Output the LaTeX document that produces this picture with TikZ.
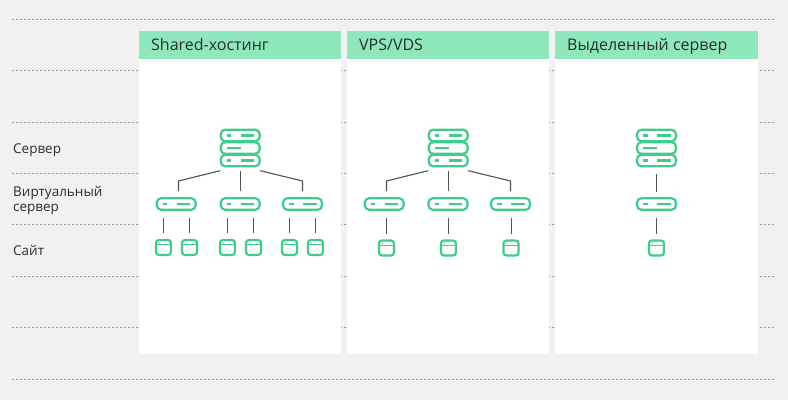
\documentclass[tikz,border=0pt]{standalone}
\usepackage{fontspec}
\setmainfont{Open Sans}
\definecolor{bgc}{HTML}{F1F1F1}
\definecolor{hdr}{HTML}{8FE8BC}
\definecolor{grn}{HTML}{3FCB8B}
\definecolor{txt}{HTML}{26302B}
\definecolor{lnk}{HTML}{505552}
\definecolor{dots}{HTML}{9A9A9A}
\tikzset{
  panel/.style={fill=white,draw=none,anchor=north west,minimum height=323pt,inner sep=0pt,outer sep=0pt},
  head/.style={fill=hdr,draw=none,anchor=north west,minimum height=28pt,inner sep=0pt,outer sep=0pt},
  headtxt/.style={anchor=base west,inner sep=0pt,text=txt,font=\fontsize{16}{18}\selectfont},
  sidetxt/.style={anchor=base west,inner sep=0pt,text=txt,font=\fontsize{13.5}{15}\selectfont,align=left},
  rowbox/.style={draw=grn,line width=2.2pt,rounded corners=4.5pt,fill=white,minimum width=39pt,minimum height=11.6pt,inner sep=0pt,outer sep=1pt},
  sitebox/.style={draw=grn,line width=2.2pt,rounded corners=3pt,fill=white,minimum width=15pt,minimum height=15pt,inner sep=0pt,outer sep=1pt},
  bar/.style={draw=grn,line width=2.2pt},
  sep/.style={draw=dots,line width=1pt,dash pattern=on 2pt off 2pt},
  link/.style={draw=lnk,line width=1.1pt},
}
\newcommand{\duo}[3]{%
  \node[rowbox] (#1) at (#2,#3) {};
  \draw[bar] (#1.west) ++(7,0) -- ++(4.5,0);
  \draw[bar] (#1.west) ++(21,0) -- ++(13.5,0);}
\newcommand{\mono}[3]{%
  \node[rowbox] (#1) at (#2,#3) {};
  \draw[bar] (#1.west) ++(7,0) -- ++(14,0);}
\newcommand{\stack}[3]{%
  \duo{#1a}{#2}{#3-12.5}\duo{#1c}{#2}{#3+12.5}\mono{#1b}{#2}{#3}}
\newcommand{\site}[3]{%
  \node[sitebox] (#1) at (#2,#3) {};
  \draw[grn,line width=1pt] (#1.north west) ++(1.5,5.7) -- ++(14,0);
  \fill[grn] (#1.north west) ++(4.5,3.8) circle (0.8);}
\begin{document}
\begin{tikzpicture}[x=1pt,y=-1pt]
\useasboundingbox (0,0) rectangle (788,400);
\fill[bgc] (0,0) rectangle (788,400);
\foreach \yy in {19.5,70.5,122,173,224.5,276,327.5,379}
  \draw[sep] (12,\yy) -- (775,\yy);
\node[panel,minimum width=202pt] (p1) at (139,31) {};
\node[panel,minimum width=202.5pt] (p2) at (346.5,31) {};
\node[panel,minimum width=203.5pt] (p3) at (554.5,31) {};
\node[head,minimum width=202pt] (h1) at (139,31) {};
\node[head,minimum width=202.5pt] (h2) at (346.5,31) {};
\node[head,minimum width=203.5pt] (h3) at (554.5,31) {};
\node[headtxt] (t1) at (151,50) {Shared-хостинг};
\node[headtxt] (t2) at (359,50) {VPS/VDS};
\node[headtxt] (t3) at (567,50) {Выделенный сервер};
\node[sidetxt] (l1) at (13,153.2) {Сервер};
\node[sidetxt] (l2a) at (13,196.2) {Виртуальный};
\node[sidetxt] (l2b) at (13,211.2) {сервер};
\node[sidetxt] (l3) at (13,255.2) {Сайт};
% panel 1
\stack{sA}{240.2}{148}
\duo{vA}{176.2}{204}\duo{vB}{240.2}{204}\duo{vC}{302.5}{204}
\site{a1}{163.5}{247.5}\site{a2}{189.5}{247.5}
\site{a3}{227.5}{247.5}\site{a4}{253.5}{247.5}
\site{a5}{289.5}{247.5}\site{a6}{315.5}{247.5}
\coordinate (eA) at (178.5,181);\coordinate (eC) at (302.5,181);
\draw[link,shorten <=-0.5pt,shorten >=6pt] (sAc.south west) ++(0,3.5) -- (eA) -- (eA |- vA.north);
\draw[link,shorten <=4pt,shorten >=6pt] (240.5,0 |- sAc.south) -- (240.5,0 |- vB.north);
\draw[link,shorten <=-0.5pt,shorten >=6pt] (sAc.south east) ++(0,3.5) -- (eC) -- (vC.north);
\foreach \n/\v in {a1/vA,a2/vA,a3/vB,a4/vB,a5/vC,a6/vC}
  \draw[link,shorten <=7pt,shorten >=6pt] (\n.north |- \v.south) -- (\n.north);
% panel 2
\stack{sB}{448.2}{148}
\duo{vD}{384.2}{204}\duo{vE}{448}{204}\duo{vF}{510.5}{204}
\site{b1}{386.5}{248}\site{b2}{448.5}{248}\site{b3}{511}{248}
\coordinate (eD) at (386.5,181);\coordinate (eF) at (510.5,181);
\draw[link,shorten <=-0.5pt,shorten >=6pt] (sBc.south west) ++(0,3.5) -- (eD) -- (eD |- vD.north);
\draw[link,shorten <=4pt,shorten >=6pt] (448.5,0 |- sBc.south) -- (448.5,0 |- vE.north);
\draw[link,shorten <=-0.5pt,shorten >=6pt] (sBc.south east) ++(0,3.5) -- (eF) -- (vF.north);
\draw[link,shorten <=7pt,shorten >=6pt] (vD.south -| b1) -- (b1.north);
\draw[link,shorten <=7pt,shorten >=6pt] (vE.south -| b2) -- (b2.north);
\draw[link,shorten <=7pt,shorten >=6pt] (511.5,0 |- vF.south) -- (511.5,0 |- b3.north);
% panel 3
\stack{sC}{656.5}{148}
\duo{vG}{656.5}{204}
\site{c1}{656.5}{248}
\draw[link,shorten <=7pt,shorten >=5pt] (sCc.south) -- (vG.north);
\draw[link,shorten <=7pt,shorten >=6pt] (vG.south) -- (c1.north);
\end{tikzpicture}
\end{document}
